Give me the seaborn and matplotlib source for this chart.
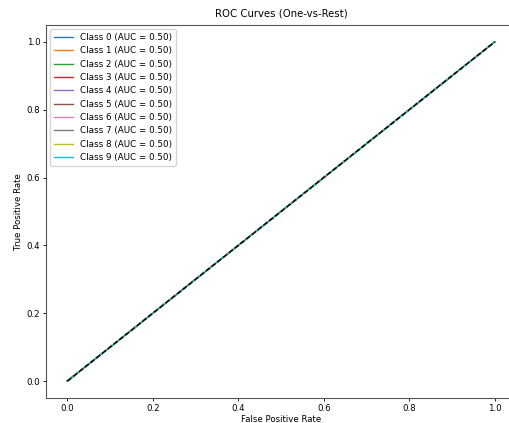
import numpy as np
import pandas as pd
import matplotlib
matplotlib.use("Agg")
import matplotlib.pyplot as plt
import seaborn as sns

# ROC points per class (all classes sit on the chance diagonal)
classes = [0, 1, 2, 3, 4, 5, 6, 7, 8, 9]
fpr = [0.0, 1.0]
tpr = [0.0, 1.0]
auc_values = [0.50, 0.50, 0.50, 0.50, 0.50, 0.50, 0.50, 0.50, 0.50, 0.50]

colors = sns.color_palette("tab10", 10)

fig = plt.figure(figsize=(5.09, 4.23), dpi=100)
ax = fig.add_axes([46 / 509, 25 / 423, 470 / 509, 373 / 423])

for i, c in enumerate(classes):
    df = pd.DataFrame({"fpr": fpr, "tpr": tpr})
    sns.lineplot(data=df, x="fpr", y="tpr", ax=ax, color=colors[i], linewidth=1,
                 label=f"Class {c} (AUC = {auc_values[i]:.2f})")

# chance line
ax.plot([0, 1], [0, 1], "k--", linewidth=1)

ax.set_title("ROC Curves (One-vs-Rest)", fontsize=7.3)
ax.set_xlabel("False Positive Rate", fontsize=6.2, labelpad=2)
ax.set_ylabel("True Positive Rate", fontsize=6.2, labelpad=3)
ax.tick_params(labelsize=6.2, length=2, width=0.6, pad=2)
for s in ax.spines.values():
    s.set_linewidth(0.8)
    s.set_color("#555555")

ax.legend(loc="upper left", fontsize=6.3, handlelength=2.2, labelspacing=0.5,
          borderpad=0.4, framealpha=0.8)

fig.savefig("out.png", dpi=100)
